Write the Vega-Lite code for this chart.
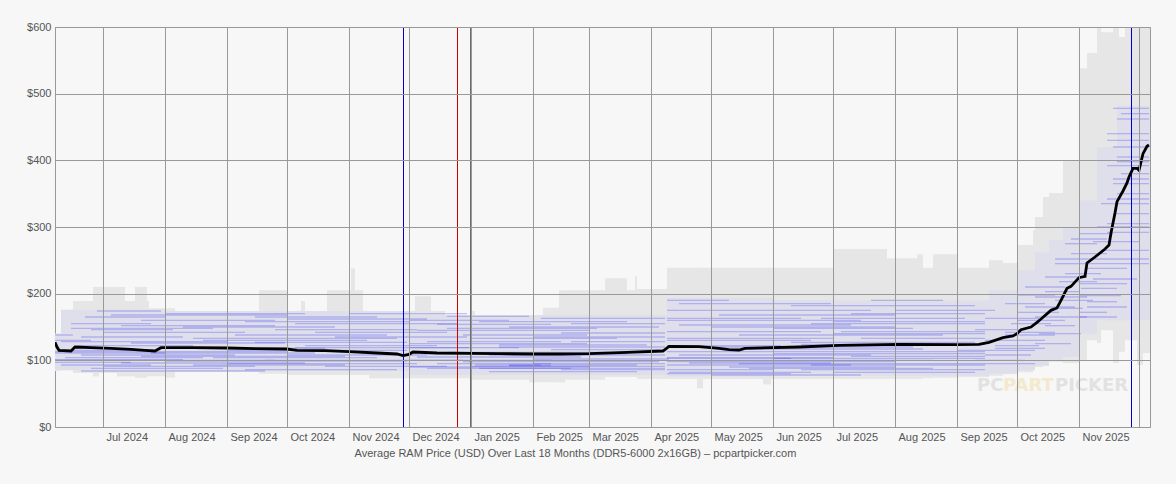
{
  "$schema": "https://vega.github.io/schema/vega-lite/v6.json",
  "width": 1095,
  "height": 400,
  "autosize": {"type": "none"},
  "padding": {"left": 55, "top": 27, "right": 26, "bottom": 57},
  "background": "#f7f7f7",
  "config": {
    "view": {"stroke": "#999", "strokeWidth": 1},
    "font": "Liberation Sans",
    "axis": {
      "labelFont": "Liberation Sans", "labelFontSize": 11, "labelColor": "#555",
      "titleFont": "Liberation Sans", "titleFontSize": 11, "titleFontWeight": "normal", "titleColor": "#555",
      "gridColor": "#999", "gridOpacity": 1, "gridWidth": 1, "ticks": false, "domain": false
    }
  },
  "datasets": {
    "outer": [
      {"s": "2024-06-07", "e": "2024-06-10", "lo": 84, "hi": 140},
      {"s": "2024-06-10", "e": "2024-06-16", "lo": 90, "hi": 165},
      {"s": "2024-06-16", "e": "2024-06-26", "lo": 81, "hi": 189},
      {"s": "2024-06-26", "e": "2024-06-29", "lo": 76, "hi": 210},
      {"s": "2024-06-29", "e": "2024-07-08", "lo": 81, "hi": 210},
      {"s": "2024-07-08", "e": "2024-07-12", "lo": 76, "hi": 210},
      {"s": "2024-07-12", "e": "2024-07-17", "lo": 76, "hi": 189},
      {"s": "2024-07-17", "e": "2024-07-23", "lo": 74, "hi": 210},
      {"s": "2024-07-23", "e": "2024-07-24", "lo": 76, "hi": 189},
      {"s": "2024-07-24", "e": "2024-08-01", "lo": 76, "hi": 178},
      {"s": "2024-08-01", "e": "2024-08-06", "lo": 74, "hi": 178},
      {"s": "2024-08-06", "e": "2024-09-17", "lo": 83, "hi": 174},
      {"s": "2024-09-17", "e": "2024-10-01", "lo": 80, "hi": 205},
      {"s": "2024-10-01", "e": "2024-10-08", "lo": 78, "hi": 174},
      {"s": "2024-10-08", "e": "2024-10-10", "lo": 78, "hi": 189},
      {"s": "2024-10-10", "e": "2024-10-21", "lo": 78, "hi": 174},
      {"s": "2024-10-21", "e": "2024-11-02", "lo": 78, "hi": 205},
      {"s": "2024-11-02", "e": "2024-11-04", "lo": 78, "hi": 238},
      {"s": "2024-11-04", "e": "2024-11-08", "lo": 78, "hi": 205},
      {"s": "2024-11-08", "e": "2024-11-11", "lo": 78, "hi": 174},
      {"s": "2024-11-11", "e": "2024-12-04", "lo": 73, "hi": 174},
      {"s": "2024-12-04", "e": "2024-12-12", "lo": 73, "hi": 196},
      {"s": "2024-12-12", "e": "2024-12-19", "lo": 73, "hi": 174},
      {"s": "2024-12-19", "e": "2025-01-01", "lo": 73, "hi": 166},
      {"s": "2025-01-01", "e": "2025-01-03", "lo": 71, "hi": 174},
      {"s": "2025-01-03", "e": "2025-01-30", "lo": 71, "hi": 166},
      {"s": "2025-01-30", "e": "2025-02-06", "lo": 67, "hi": 166},
      {"s": "2025-02-06", "e": "2025-02-14", "lo": 67, "hi": 179},
      {"s": "2025-02-14", "e": "2025-02-17", "lo": 67, "hi": 205},
      {"s": "2025-02-17", "e": "2025-03-09", "lo": 71, "hi": 205},
      {"s": "2025-03-09", "e": "2025-03-20", "lo": 75, "hi": 223},
      {"s": "2025-03-20", "e": "2025-03-24", "lo": 75, "hi": 205},
      {"s": "2025-03-24", "e": "2025-03-25", "lo": 75, "hi": 226},
      {"s": "2025-03-25", "e": "2025-04-09", "lo": 72, "hi": 207},
      {"s": "2025-04-09", "e": "2025-04-24", "lo": 72, "hi": 239},
      {"s": "2025-04-24", "e": "2025-04-27", "lo": 58, "hi": 239},
      {"s": "2025-04-27", "e": "2025-05-27", "lo": 72, "hi": 239},
      {"s": "2025-05-27", "e": "2025-05-31", "lo": 64, "hi": 239},
      {"s": "2025-05-31", "e": "2025-07-01", "lo": 72, "hi": 239},
      {"s": "2025-07-01", "e": "2025-07-28", "lo": 72, "hi": 267},
      {"s": "2025-07-28", "e": "2025-08-12", "lo": 72, "hi": 253},
      {"s": "2025-08-12", "e": "2025-08-15", "lo": 72, "hi": 259},
      {"s": "2025-08-15", "e": "2025-08-20", "lo": 73, "hi": 239},
      {"s": "2025-08-20", "e": "2025-09-01", "lo": 74, "hi": 259},
      {"s": "2025-09-01", "e": "2025-09-17", "lo": 75, "hi": 239},
      {"s": "2025-09-17", "e": "2025-09-24", "lo": 77, "hi": 250},
      {"s": "2025-09-24", "e": "2025-10-01", "lo": 80, "hi": 246},
      {"s": "2025-10-01", "e": "2025-10-09", "lo": 82, "hi": 273},
      {"s": "2025-10-09", "e": "2025-10-10", "lo": 88, "hi": 295},
      {"s": "2025-10-10", "e": "2025-10-14", "lo": 90, "hi": 315},
      {"s": "2025-10-14", "e": "2025-10-17", "lo": 92, "hi": 345},
      {"s": "2025-10-17", "e": "2025-10-24", "lo": 98, "hi": 351},
      {"s": "2025-10-24", "e": "2025-11-01", "lo": 96, "hi": 400},
      {"s": "2025-11-01", "e": "2025-11-05", "lo": 100, "hi": 538},
      {"s": "2025-11-05", "e": "2025-11-10", "lo": 130, "hi": 561},
      {"s": "2025-11-10", "e": "2025-11-12", "lo": 126, "hi": 600},
      {"s": "2025-11-12", "e": "2025-11-18", "lo": 145, "hi": 592},
      {"s": "2025-11-18", "e": "2025-11-21", "lo": 96, "hi": 600},
      {"s": "2025-11-21", "e": "2025-11-24", "lo": 113, "hi": 585},
      {"s": "2025-11-24", "e": "2025-11-30", "lo": 130, "hi": 600},
      {"s": "2025-11-30", "e": "2025-12-03", "lo": 93, "hi": 600},
      {"s": "2025-12-03", "e": "2025-12-07", "lo": 111, "hi": 600}
    ],
    "core": [
      {"s": "2024-06-07", "e": "2024-06-10", "lo": 86, "hi": 140},
      {"s": "2024-06-10", "e": "2024-08-01", "lo": 85, "hi": 176},
      {"s": "2024-08-01", "e": "2024-12-01", "lo": 84, "hi": 174},
      {"s": "2024-12-01", "e": "2025-04-09", "lo": 78, "hi": 168},
      {"s": "2025-04-09", "e": "2025-06-01", "lo": 76, "hi": 194},
      {"s": "2025-06-01", "e": "2025-09-17", "lo": 77, "hi": 190},
      {"s": "2025-09-17", "e": "2025-10-01", "lo": 80, "hi": 205},
      {"s": "2025-10-01", "e": "2025-10-10", "lo": 85, "hi": 235},
      {"s": "2025-10-10", "e": "2025-10-17", "lo": 92, "hi": 262},
      {"s": "2025-10-17", "e": "2025-10-24", "lo": 100, "hi": 280},
      {"s": "2025-10-24", "e": "2025-11-01", "lo": 105, "hi": 300},
      {"s": "2025-11-01", "e": "2025-11-10", "lo": 140, "hi": 340},
      {"s": "2025-11-10", "e": "2025-11-20", "lo": 160, "hi": 420},
      {"s": "2025-11-20", "e": "2025-12-07", "lo": 160, "hi": 482}
    ],
    "lines": [
      {"s": "2024-06-07", "e": "2024-09-25", "p": 100},
      {"s": "2024-09-20", "e": "2024-12-28", "p": 100},
      {"s": "2024-06-07", "e": "2024-08-10", "p": 101},
      {"s": "2024-08-01", "e": "2024-11-30", "p": 99},
      {"s": "2024-06-07", "e": "2024-08-01", "p": 111},
      {"s": "2024-07-25", "e": "2024-10-15", "p": 111},
      {"s": "2024-06-20", "e": "2024-09-05", "p": 108},
      {"s": "2024-10-01", "e": "2024-12-10", "p": 108},
      {"s": "2024-06-12", "e": "2024-08-20", "p": 104},
      {"s": "2024-08-25", "e": "2024-11-15", "p": 104},
      {"s": "2024-06-10", "e": "2024-07-25", "p": 93},
      {"s": "2024-08-15", "e": "2024-10-30", "p": 93},
      {"s": "2024-07-01", "e": "2024-09-15", "p": 91},
      {"s": "2024-10-20", "e": "2024-12-20", "p": 91},
      {"s": "2024-06-25", "e": "2024-08-30", "p": 88},
      {"s": "2024-09-10", "e": "2024-11-25", "p": 86},
      {"s": "2024-07-10", "e": "2024-10-10", "p": 96},
      {"s": "2024-06-15", "e": "2024-07-20", "p": 115},
      {"s": "2024-09-01", "e": "2024-11-30", "p": 115},
      {"s": "2024-08-05", "e": "2024-10-20", "p": 118},
      {"s": "2024-06-18", "e": "2024-08-15", "p": 122},
      {"s": "2024-10-10", "e": "2024-12-15", "p": 122},
      {"s": "2024-07-15", "e": "2024-09-30", "p": 126},
      {"s": "2024-06-07", "e": "2024-06-25", "p": 130},
      {"s": "2024-08-20", "e": "2024-11-10", "p": 130},
      {"s": "2024-06-20", "e": "2024-08-10", "p": 135},
      {"s": "2024-10-25", "e": "2024-12-30", "p": 135},
      {"s": "2024-06-07", "e": "2024-06-16", "p": 138},
      {"s": "2024-09-05", "e": "2024-11-20", "p": 138},
      {"s": "2024-07-01", "e": "2024-09-10", "p": 142},
      {"s": "2024-06-25", "e": "2024-08-05", "p": 146},
      {"s": "2024-09-25", "e": "2024-12-05", "p": 146},
      {"s": "2024-08-10", "e": "2024-10-25", "p": 150},
      {"s": "2024-06-15", "e": "2024-07-25", "p": 155},
      {"s": "2024-10-05", "e": "2024-12-25", "p": 155},
      {"s": "2024-07-20", "e": "2024-09-25", "p": 160},
      {"s": "2024-06-22", "e": "2024-08-01", "p": 165},
      {"s": "2024-09-15", "e": "2024-11-15", "p": 165},
      {"s": "2024-08-01", "e": "2024-10-10", "p": 170},
      {"s": "2024-11-01", "e": "2024-12-30", "p": 170},
      {"s": "2024-06-28", "e": "2024-07-30", "p": 174},
      {"s": "2024-06-07", "e": "2024-07-15", "p": 97},
      {"s": "2024-07-20", "e": "2024-10-30", "p": 106},
      {"s": "2024-09-01", "e": "2024-12-05", "p": 95},
      {"s": "2024-06-10", "e": "2024-09-01", "p": 128},
      {"s": "2024-08-15", "e": "2024-11-25", "p": 133},
      {"s": "2024-06-15", "e": "2024-08-25", "p": 148},
      {"s": "2024-09-10", "e": "2024-12-01", "p": 158},
      {"s": "2024-07-05", "e": "2024-10-01", "p": 168},
      {"s": "2024-10-01", "e": "2024-12-10", "p": 162},
      {"s": "2024-06-07", "e": "2024-10-01", "p": 113},
      {"s": "2024-10-05", "e": "2024-12-31", "p": 119},
      {"s": "2024-06-20", "e": "2024-09-20", "p": 84},
      {"s": "2024-09-15", "e": "2024-11-30", "p": 127},
      {"s": "2024-07-10", "e": "2024-09-25", "p": 152},
      {"s": "2024-10-15", "e": "2024-12-20", "p": 142},
      {"s": "2024-12-10", "e": "2025-02-20", "p": 88},
      {"s": "2025-01-05", "e": "2025-04-08", "p": 88},
      {"s": "2024-12-01", "e": "2025-03-01", "p": 90},
      {"s": "2025-01-03", "e": "2025-03-25", "p": 93},
      {"s": "2025-01-20", "e": "2025-02-05", "p": 93},
      {"s": "2024-12-15", "e": "2025-02-10", "p": 95},
      {"s": "2024-12-28", "e": "2025-04-05", "p": 98},
      {"s": "2025-02-01", "e": "2025-04-10", "p": 102},
      {"s": "2024-12-05", "e": "2025-02-25", "p": 105},
      {"s": "2025-01-10", "e": "2025-04-08", "p": 108},
      {"s": "2024-12-20", "e": "2025-03-10", "p": 112},
      {"s": "2025-02-10", "e": "2025-04-08", "p": 116},
      {"s": "2024-12-01", "e": "2025-01-25", "p": 119},
      {"s": "2025-01-15", "e": "2025-03-30", "p": 123},
      {"s": "2024-12-10", "e": "2025-02-15", "p": 128},
      {"s": "2025-02-20", "e": "2025-04-08", "p": 128},
      {"s": "2025-01-01", "e": "2025-03-15", "p": 133},
      {"s": "2024-12-28", "e": "2025-02-28", "p": 138},
      {"s": "2025-02-15", "e": "2025-04-08", "p": 141},
      {"s": "2024-12-05", "e": "2025-03-01", "p": 145},
      {"s": "2025-01-20", "e": "2025-04-05", "p": 150},
      {"s": "2024-12-15", "e": "2025-02-10", "p": 154},
      {"s": "2025-01-05", "e": "2025-03-20", "p": 158},
      {"s": "2025-02-05", "e": "2025-04-08", "p": 163},
      {"s": "2024-12-20", "e": "2025-01-30", "p": 166},
      {"s": "2024-12-01", "e": "2025-02-10", "p": 100},
      {"s": "2025-01-01", "e": "2025-04-08", "p": 91},
      {"s": "2025-02-01", "e": "2025-04-08", "p": 95},
      {"s": "2024-12-10", "e": "2025-03-20", "p": 110},
      {"s": "2025-01-15", "e": "2025-04-08", "p": 120},
      {"s": "2024-12-01", "e": "2025-02-28", "p": 125},
      {"s": "2025-02-01", "e": "2025-04-08", "p": 135},
      {"s": "2024-12-20", "e": "2025-03-05", "p": 148},
      {"s": "2025-02-20", "e": "2025-04-08", "p": 155},
      {"s": "2024-12-01", "e": "2025-01-20", "p": 160},
      {"s": "2025-01-10", "e": "2025-03-25", "p": 83},
      {"s": "2025-02-15", "e": "2025-04-08", "p": 86},
      {"s": "2025-01-20", "e": "2025-02-10", "p": 92},
      {"s": "2025-05-01", "e": "2025-07-15", "p": 78},
      {"s": "2025-04-10", "e": "2025-06-20", "p": 82},
      {"s": "2025-07-01", "e": "2025-09-10", "p": 82},
      {"s": "2025-04-09", "e": "2025-06-01", "p": 86},
      {"s": "2025-06-15", "e": "2025-09-15", "p": 86},
      {"s": "2025-05-10", "e": "2025-08-01", "p": 90},
      {"s": "2025-04-09", "e": "2025-07-10", "p": 93},
      {"s": "2025-06-20", "e": "2025-09-15", "p": 93},
      {"s": "2025-04-20", "e": "2025-06-30", "p": 96},
      {"s": "2025-05-01", "e": "2025-08-20", "p": 100},
      {"s": "2025-04-09", "e": "2025-06-10", "p": 103},
      {"s": "2025-06-01", "e": "2025-09-15", "p": 103},
      {"s": "2025-07-10", "e": "2025-09-15", "p": 106},
      {"s": "2025-04-15", "e": "2025-07-20", "p": 108},
      {"s": "2025-04-09", "e": "2025-09-15", "p": 113},
      {"s": "2025-05-20", "e": "2025-08-15", "p": 117},
      {"s": "2025-04-09", "e": "2025-06-05", "p": 122},
      {"s": "2025-06-10", "e": "2025-09-10", "p": 127},
      {"s": "2025-04-09", "e": "2025-07-01", "p": 133},
      {"s": "2025-07-15", "e": "2025-09-15", "p": 133},
      {"s": "2025-05-15", "e": "2025-08-25", "p": 138},
      {"s": "2025-04-09", "e": "2025-06-25", "p": 143},
      {"s": "2025-07-05", "e": "2025-09-15", "p": 143},
      {"s": "2025-06-01", "e": "2025-08-10", "p": 148},
      {"s": "2025-04-15", "e": "2025-07-10", "p": 153},
      {"s": "2025-07-01", "e": "2025-09-15", "p": 158},
      {"s": "2025-04-09", "e": "2025-06-15", "p": 163},
      {"s": "2025-06-25", "e": "2025-09-05", "p": 163},
      {"s": "2025-05-05", "e": "2025-08-01", "p": 168},
      {"s": "2025-04-09", "e": "2025-07-20", "p": 175},
      {"s": "2025-08-01", "e": "2025-09-20", "p": 175},
      {"s": "2025-06-10", "e": "2025-09-10", "p": 182},
      {"s": "2025-04-09", "e": "2025-05-10", "p": 190},
      {"s": "2025-07-20", "e": "2025-08-25", "p": 190},
      {"s": "2025-04-09", "e": "2025-08-01", "p": 98},
      {"s": "2025-05-15", "e": "2025-09-15", "p": 95},
      {"s": "2025-04-09", "e": "2025-07-01", "p": 104},
      {"s": "2025-06-01", "e": "2025-09-15", "p": 110},
      {"s": "2025-04-20", "e": "2025-08-10", "p": 120},
      {"s": "2025-06-15", "e": "2025-09-15", "p": 124},
      {"s": "2025-04-09", "e": "2025-06-20", "p": 130},
      {"s": "2025-07-01", "e": "2025-09-15", "p": 140},
      {"s": "2025-05-01", "e": "2025-08-01", "p": 150},
      {"s": "2025-06-20", "e": "2025-09-15", "p": 155},
      {"s": "2025-04-09", "e": "2025-07-15", "p": 160},
      {"s": "2025-07-10", "e": "2025-09-15", "p": 170},
      {"s": "2025-04-15", "e": "2025-06-30", "p": 185},
      {"s": "2025-05-20", "e": "2025-08-20", "p": 88},
      {"s": "2025-04-09", "e": "2025-06-10", "p": 80},
      {"s": "2025-09-10", "e": "2025-10-05", "p": 100},
      {"s": "2025-09-15", "e": "2025-10-08", "p": 108},
      {"s": "2025-09-01", "e": "2025-10-10", "p": 115},
      {"s": "2025-09-20", "e": "2025-10-12", "p": 122},
      {"s": "2025-09-15", "e": "2025-10-15", "p": 130},
      {"s": "2025-09-25", "e": "2025-10-20", "p": 138},
      {"s": "2025-09-10", "e": "2025-10-05", "p": 146},
      {"s": "2025-09-28", "e": "2025-10-18", "p": 155},
      {"s": "2025-09-15", "e": "2025-10-12", "p": 163},
      {"s": "2025-10-01", "e": "2025-10-22", "p": 172},
      {"s": "2025-09-25", "e": "2025-10-15", "p": 185},
      {"s": "2025-10-01", "e": "2025-10-20", "p": 198},
      {"s": "2025-10-05", "e": "2025-10-25", "p": 210},
      {"s": "2025-09-15", "e": "2025-10-10", "p": 95},
      {"s": "2025-09-20", "e": "2025-10-15", "p": 118},
      {"s": "2025-09-25", "e": "2025-10-20", "p": 142},
      {"s": "2025-10-01", "e": "2025-10-25", "p": 160},
      {"s": "2025-10-05", "e": "2025-10-30", "p": 180},
      {"s": "2025-10-10", "e": "2025-10-28", "p": 125},
      {"s": "2025-10-12", "e": "2025-11-02", "p": 140},
      {"s": "2025-10-15", "e": "2025-10-30", "p": 152},
      {"s": "2025-10-10", "e": "2025-11-05", "p": 165},
      {"s": "2025-10-18", "e": "2025-11-03", "p": 178},
      {"s": "2025-10-20", "e": "2025-11-08", "p": 190},
      {"s": "2025-10-15", "e": "2025-11-01", "p": 203},
      {"s": "2025-10-22", "e": "2025-11-10", "p": 218},
      {"s": "2025-10-25", "e": "2025-11-12", "p": 230},
      {"s": "2025-10-20", "e": "2025-11-05", "p": 245},
      {"s": "2025-10-28", "e": "2025-11-15", "p": 260},
      {"s": "2025-10-25", "e": "2025-11-10", "p": 275},
      {"s": "2025-11-01", "e": "2025-11-18", "p": 290},
      {"s": "2025-10-10", "e": "2025-11-05", "p": 195},
      {"s": "2025-10-15", "e": "2025-11-05", "p": 225},
      {"s": "2025-10-20", "e": "2025-11-10", "p": 252},
      {"s": "2025-10-28", "e": "2025-11-15", "p": 282},
      {"s": "2025-11-01", "e": "2025-11-20", "p": 165},
      {"s": "2025-11-05", "e": "2025-11-25", "p": 180},
      {"s": "2025-11-01", "e": "2025-11-22", "p": 197},
      {"s": "2025-11-02", "e": "2025-11-20", "p": 208},
      {"s": "2025-11-08", "e": "2025-11-30", "p": 222},
      {"s": "2025-11-05", "e": "2025-11-25", "p": 238},
      {"s": "2025-11-10", "e": "2025-12-06", "p": 252},
      {"s": "2025-11-12", "e": "2025-12-06", "p": 265},
      {"s": "2025-11-08", "e": "2025-12-01", "p": 278},
      {"s": "2025-11-15", "e": "2025-12-06", "p": 292},
      {"s": "2025-11-15", "e": "2025-12-06", "p": 305},
      {"s": "2025-11-18", "e": "2025-12-06", "p": 320},
      {"s": "2025-11-12", "e": "2025-12-06", "p": 335},
      {"s": "2025-11-20", "e": "2025-12-06", "p": 350},
      {"s": "2025-11-18", "e": "2025-12-06", "p": 365},
      {"s": "2025-11-22", "e": "2025-12-06", "p": 380},
      {"s": "2025-11-15", "e": "2025-12-06", "p": 392},
      {"s": "2025-11-20", "e": "2025-12-06", "p": 405},
      {"s": "2025-11-18", "e": "2025-12-06", "p": 420},
      {"s": "2025-11-15", "e": "2025-12-06", "p": 440},
      {"s": "2025-11-20", "e": "2025-12-06", "p": 462},
      {"s": "2025-11-18", "e": "2025-12-06", "p": 478},
      {"s": "2025-11-01", "e": "2025-11-25", "p": 215},
      {"s": "2025-11-05", "e": "2025-12-06", "p": 245},
      {"s": "2025-11-10", "e": "2025-12-06", "p": 300},
      {"s": "2025-11-15", "e": "2025-12-06", "p": 342},
      {"s": "2025-11-18", "e": "2025-12-06", "p": 372},
      {"s": "2025-11-20", "e": "2025-12-06", "p": 398},
      {"s": "2025-11-15", "e": "2025-12-06", "p": 430},
      {"s": "2025-11-22", "e": "2025-12-06", "p": 470},
      {"s": "2025-11-01", "e": "2025-11-15", "p": 172},
      {"s": "2025-11-05", "e": "2025-11-20", "p": 188}
    ],
    "avg": [
      {"d": "2024-06-07", "v": 127}, {"d": "2024-06-08", "v": 120}, {"d": "2024-06-09", "v": 115},
      {"d": "2024-06-15", "v": 114}, {"d": "2024-06-17", "v": 120}, {"d": "2024-06-25", "v": 119},
      {"d": "2024-07-05", "v": 118}, {"d": "2024-07-15", "v": 116.5}, {"d": "2024-07-22", "v": 115},
      {"d": "2024-07-27", "v": 114}, {"d": "2024-07-30", "v": 119}, {"d": "2024-08-15", "v": 119},
      {"d": "2024-09-01", "v": 118.5}, {"d": "2024-09-15", "v": 117.5}, {"d": "2024-10-01", "v": 117},
      {"d": "2024-10-06", "v": 115}, {"d": "2024-10-20", "v": 114.5}, {"d": "2024-11-01", "v": 113},
      {"d": "2024-11-15", "v": 111}, {"d": "2024-11-25", "v": 109.5}, {"d": "2024-11-28", "v": 107},
      {"d": "2024-12-01", "v": 109}, {"d": "2024-12-03", "v": 112.5}, {"d": "2024-12-15", "v": 111},
      {"d": "2025-01-01", "v": 110.5}, {"d": "2025-01-15", "v": 110}, {"d": "2025-02-01", "v": 109.5},
      {"d": "2025-02-15", "v": 109.5}, {"d": "2025-03-01", "v": 110}, {"d": "2025-03-20", "v": 112},
      {"d": "2025-04-07", "v": 114}, {"d": "2025-04-10", "v": 121}, {"d": "2025-04-25", "v": 120.5},
      {"d": "2025-05-05", "v": 118}, {"d": "2025-05-10", "v": 116}, {"d": "2025-05-15", "v": 115.5},
      {"d": "2025-05-18", "v": 118}, {"d": "2025-06-14", "v": 120}, {"d": "2025-07-04", "v": 122.5},
      {"d": "2025-08-03", "v": 124}, {"d": "2025-09-01", "v": 123.5}, {"d": "2025-09-12", "v": 124},
      {"d": "2025-09-17", "v": 127}, {"d": "2025-09-24", "v": 134}, {"d": "2025-09-29", "v": 136.5},
      {"d": "2025-10-01", "v": 140}, {"d": "2025-10-03", "v": 146}, {"d": "2025-10-08", "v": 150},
      {"d": "2025-10-11", "v": 157}, {"d": "2025-10-13", "v": 162}, {"d": "2025-10-18", "v": 175},
      {"d": "2025-10-21", "v": 178.5}, {"d": "2025-10-23", "v": 190}, {"d": "2025-10-26", "v": 208},
      {"d": "2025-10-28", "v": 211}, {"d": "2025-11-01", "v": 224}, {"d": "2025-11-04", "v": 226},
      {"d": "2025-11-05", "v": 246}, {"d": "2025-11-09", "v": 255}, {"d": "2025-11-14", "v": 267},
      {"d": "2025-11-16", "v": 273}, {"d": "2025-11-17", "v": 291}, {"d": "2025-11-19", "v": 321},
      {"d": "2025-11-20", "v": 338}, {"d": "2025-11-23", "v": 354}, {"d": "2025-11-25", "v": 366},
      {"d": "2025-11-26", "v": 375}, {"d": "2025-11-28", "v": 388}, {"d": "2025-11-30", "v": 388},
      {"d": "2025-12-01", "v": 385}, {"d": "2025-12-03", "v": 410}, {"d": "2025-12-05", "v": 421},
      {"d": "2025-12-06", "v": 423}
    ],
    "events": [
      {"d": "2024-11-28", "k": "Thanksgiving"},
      {"d": "2024-12-25", "k": "Christmas"},
      {"d": "2025-11-27", "k": "Thanksgiving"}
    ],
    "years": [
      {"d": "2025-01-01"}
    ],
    "brand": [
      {"d": "2025-09-11", "v": 61, "t": "PC"},
      {"d": "2025-09-24", "v": 61, "t": "PART"},
      {"d": "2025-10-20", "v": 61, "t": "PICKER"}
    ]
  },
  "resolve": {"scale": {"color": "independent"}},
  "layer": [
    {
      "data": {"name": "outer"},
      "mark": {"type": "rect", "color": "#e6e6e6", "clip": true},
      "encoding": {
        "x": {
          "field": "s", "type": "temporal",
          "scale": {"type": "utc", "domain": [{"year": 2024, "month": 6, "date": 7, "utc": true}, {"year": 2025, "month": 12, "date": 6, "hours": 12, "utc": true}]},
          "axis": {
            "values": [
              {"year": 2024, "month": 7, "date": 1, "utc": true}, {"year": 2024, "month": 8, "date": 1, "utc": true},
              {"year": 2024, "month": 9, "date": 1, "utc": true}, {"year": 2024, "month": 10, "date": 1, "utc": true},
              {"year": 2024, "month": 11, "date": 1, "utc": true}, {"year": 2024, "month": 12, "date": 1, "utc": true},
              {"year": 2025, "month": 1, "date": 1, "utc": true}, {"year": 2025, "month": 2, "date": 1, "utc": true},
              {"year": 2025, "month": 3, "date": 1, "utc": true}, {"year": 2025, "month": 4, "date": 1, "utc": true},
              {"year": 2025, "month": 5, "date": 1, "utc": true}, {"year": 2025, "month": 6, "date": 1, "utc": true},
              {"year": 2025, "month": 7, "date": 1, "utc": true}, {"year": 2025, "month": 8, "date": 1, "utc": true},
              {"year": 2025, "month": 9, "date": 1, "utc": true}, {"year": 2025, "month": 10, "date": 1, "utc": true},
              {"year": 2025, "month": 11, "date": 1, "utc": true}, {"year": 2025, "month": 12, "date": 1, "utc": true}
            ],
            "format": "%b %Y",
            "labelExpr": "datum.label == 'Dec 2025' ? '' : datum.label",
            "labelAlign": "left",
            "labelOffset": 3,
            "labelPadding": 4,
            "labelOverlap": false,
            "grid": true,
            "zindex": 1,
            "title": "Average RAM Price (USD) Over Last 18 Months (DDR5-6000 2x16GB) – pcpartpicker.com",
            "titleX": 520,
            "titleY": 26,
            "titleAlign": "center",
            "titleBaseline": "middle"
          }
        },
        "x2": {"field": "e"},
        "y": {
          "field": "lo", "type": "quantitative",
          "scale": {"domain": [0, 600], "nice": false},
          "axis": {"values": [0, 100, 200, 300, 400, 500, 600], "format": "$.0f", "labelPadding": 4, "grid": true, "zindex": 1, "title": null}
        },
        "y2": {"field": "hi"}
      }
    },
    {
      "data": {"name": "core"},
      "mark": {"type": "rect", "color": "#dfdfec", "clip": true},
      "encoding": {
        "x": {"field": "s", "type": "temporal"},
        "x2": {"field": "e"},
        "y": {"field": "lo", "type": "quantitative"},
        "y2": {"field": "hi"}
      }
    },
    {
      "data": {"name": "lines"},
      "mark": {"type": "rule", "color": "#3535ee", "opacity": 0.28, "strokeWidth": 1.3, "clip": true},
      "encoding": {
        "x": {"field": "s", "type": "temporal"},
        "x2": {"field": "e"},
        "y": {"field": "p", "type": "quantitative"}
      }
    },
    {
      "data": {"name": "events"},
      "mark": {"type": "rule", "strokeWidth": 1, "xOffset": 0.5},
      "encoding": {
        "x": {"field": "d", "type": "temporal"},
        "color": {"field": "k", "type": "nominal", "scale": {"domain": ["Thanksgiving", "Christmas"], "range": ["#0000cc", "#cc0000"]}, "legend": null}
      }
    },
    {
      "data": {"name": "years"},
      "mark": {"type": "rule", "color": "#6e6e6e", "strokeWidth": 2},
      "encoding": {
        "x": {"field": "d", "type": "temporal"}
      }
    },
    {
      "data": {"name": "avg"},
      "mark": {"type": "line", "color": "#000000", "strokeWidth": 2.8, "clip": true},
      "encoding": {
        "x": {"field": "d", "type": "temporal"},
        "y": {"field": "v", "type": "quantitative"}
      }
    },
    {
      "data": {"name": "brand"},
      "mark": {"type": "text", "align": "left", "baseline": "middle", "font": "DejaVu Sans", "fontWeight": "bold", "fontSize": 18},
      "encoding": {
        "x": {"field": "d", "type": "temporal"},
        "y": {"field": "v", "type": "quantitative"},
        "text": {"field": "t"},
        "color": {"field": "t", "type": "nominal", "scale": {"domain": ["PC", "PART", "PICKER"], "range": ["#e2e2e2", "#f3e9cc", "#e2e2e2"]}, "legend": null}
      }
    }
  ]
}
